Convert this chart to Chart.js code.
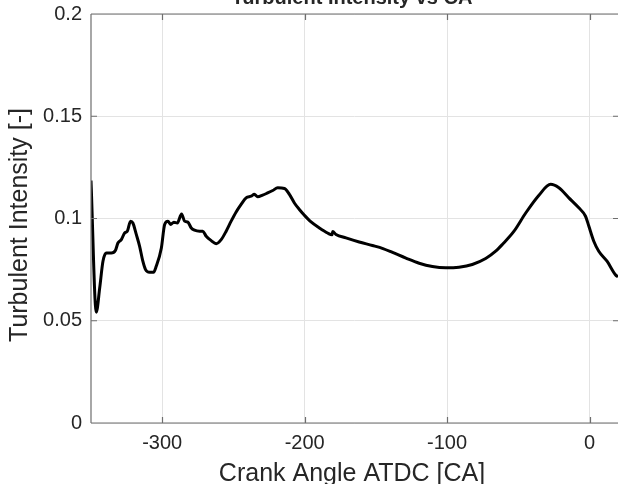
<!DOCTYPE html>
<html>
<head>
<meta charset="utf-8">
<script src="https://cdn.jsdelivr.net/npm/chart.js@4"></script>
<style>
  html, body { margin: 0; padding: 0; background: #ffffff; }
  #wrap { width: 618px; height: 484px; position: relative; }
</style>
</head>
<body>
<div id="wrap"><canvas id="c" width="618" height="484"></canvas></div>
<script>
// Crank angle [deg ATDC]
const crankAngle = [
  -350.0, -346.3, -343.9, -341.6, -339.2, -335.7, -332.9, -331.1, -328.7, -326.4,
  -324.5, -322.2, -320.6, -318.2, -315.9, -313.6, -311.7, -308.9, -306.1, -304.2,
  -300.6, -298.3, -296.0, -294.1, -291.8, -289.4, -286.4, -284.3, -282.0, -279.6,
  -277.3, -273.8, -271.5, -269.1, -265.6, -262.1, -258.6, -255.1, -251.6, -248.1,
  -244.6, -241.1, -237.6, -235.3, -233.0, -229.5, -226.0, -222.4, -218.9, -214.2,
  -210.7, -207.2, -203.7, -200.2, -195.5, -189.7, -183.9, -180.8, -180.3, -178.0,
  -171.0, -161.7, -152.4, -145.0, -138.3, -128.9, -119.6, -110.3, -100.9, -91.6,
  -82.3, -72.9, -65.9, -61.2, -53.0, -44.8, -35.5, -27.3, -21.5, -14.5,
  -7.5, -2.8, -0.5, 3.0, 6.5, 12.3, 18.2, 20.0
];
// Turbulent intensity [-]
const turbIntensity = [
  0.1186, 0.0542, 0.0660, 0.0791, 0.0831, 0.0831, 0.0843, 0.0880, 0.0897, 0.0929,
  0.0938, 0.0987, 0.0978, 0.0922, 0.0865, 0.0791, 0.0750, 0.0737, 0.0737, 0.0766,
  0.0856, 0.0971, 0.0987, 0.0971, 0.0982, 0.0978, 0.1022, 0.0987, 0.0982, 0.0954,
  0.0943, 0.0938, 0.0938, 0.0913, 0.0892, 0.0877, 0.0897, 0.0938, 0.0987, 0.1032,
  0.1069, 0.1101, 0.1109, 0.1118, 0.1106, 0.1114, 0.1125, 0.1137, 0.1150, 0.1147,
  0.1118, 0.1076, 0.1044, 0.1016, 0.0983, 0.0954, 0.0929, 0.0920, 0.0936, 0.0922,
  0.0905, 0.0885, 0.0868, 0.0853, 0.0834, 0.0806, 0.0781, 0.0765, 0.0759, 0.0762,
  0.0775, 0.0804, 0.0840, 0.0873, 0.0938, 0.1027, 0.1114, 0.1167, 0.1150, 0.1101,
  0.1052, 0.1011, 0.0963, 0.0889, 0.0840, 0.0791, 0.0725, 0.0714
];
const xTicks = [-300, -200, -100, 0];
const yTicks = [0, 0.05, 0.1, 0.15, 0.2];
const yTickLabels = ['0', '0.05', '0.1', '0.15', '0.2'];
const xRange = [-350, 20];
const yRange = [0, 0.2];
const titleText = 'Turbulent Intensity vs CA';
const xLabelText = 'Crank Angle ATDC [CA]';
const yLabelText = 'Turbulent Intensity [-]';

const FONT = '"Liberation Sans", Arial, Helvetica, sans-serif';
const TXT = '#262626';

const points = crankAngle.map((x, i) => ({ x: x, y: turbIntensity[i] }));

const framePlugin = {
  id: 'frame',
  afterDraw(chart) {
    const ctx = chart.ctx;
    const a = chart.chartArea;
    const xs = chart.scales.x, ys = chart.scales.y;
    ctx.save();
    ctx.strokeStyle = '#6e6e6e';
    ctx.lineWidth = 1.2;
    ctx.beginPath();
    ctx.moveTo(a.left, a.top); ctx.lineTo(a.left, a.bottom);
    ctx.moveTo(a.left, a.bottom); ctx.lineTo(a.right + 2, a.bottom);
    ctx.moveTo(a.left, a.top); ctx.lineTo(a.right + 2, a.top);
    const tl = 6;
    xTicks.forEach(v => {
      const px = Math.round(xs.getPixelForValue(v)) + 0.5;
      ctx.moveTo(px, a.bottom); ctx.lineTo(px, a.bottom - tl);
      ctx.moveTo(px, a.top); ctx.lineTo(px, a.top + tl);
    });
    yTicks.forEach(v => {
      const py = ys.getPixelForValue(v);
      ctx.moveTo(a.left, py); ctx.lineTo(a.left + tl, py);
      ctx.moveTo(a.right + 1, py); ctx.lineTo(a.right - 5, py);
    });
    ctx.stroke();

    ctx.fillStyle = TXT;
    ctx.font = 'bold 20px ' + FONT;
    ctx.textAlign = 'center';
    ctx.textBaseline = 'alphabetic';
    ctx.fillText(titleText, 352, 4);
    ctx.font = '25px ' + FONT;
    ctx.fillText(xLabelText, 352, 481);
    ctx.translate(27, 225);
    ctx.rotate(-Math.PI / 2);
    ctx.fillText(yLabelText, 0, 0);
    ctx.restore();
  }
};

new Chart(document.getElementById('c'), {
  type: 'scatter',
  data: {
    datasets: [{
      data: points,
      showLine: true,
      borderColor: '#000000',
      borderWidth: 3,
      pointRadius: 0,
      fill: false,
      cubicInterpolationMode: 'monotone'
    }]
  },
  options: {
    responsive: false,
    animation: false,
    devicePixelRatio: 1,
    layout: { padding: { top: 14, right: 0, bottom: 0, left: 0 } },
    plugins: { legend: { display: false }, tooltip: { enabled: false }, title: { display: false } },
    scales: {
      x: {
        type: 'linear',
        min: xRange[0], max: xRange[1],
        afterBuildTicks: s => { s.ticks = xTicks.map(v => ({ value: v })); },
        afterFit: s => { s.height = 61; s.paddingLeft = 0; s.paddingRight = 0; },
        grid: { color: '#e3e3e3', lineWidth: 1, drawTicks: false },
        border: { display: false },
        ticks: {
          font: { family: FONT, size: 20 }, color: TXT, padding: 8,
          maxRotation: 0, autoSkip: false,
          callback: v => String(v)
        }
      },
      y: {
        type: 'linear',
        min: yRange[0], max: yRange[1],
        afterBuildTicks: s => { s.ticks = yTicks.map(v => ({ value: v })); },
        afterFit: s => { s.width = 91; s.paddingTop = 0; s.paddingBottom = 0; },
        grid: { color: '#e3e3e3', lineWidth: 1, drawTicks: false },
        border: { display: false },
        ticks: {
          font: { family: FONT, size: 20 }, color: TXT, padding: 9,
          autoSkip: false,
          callback: v => yTickLabels[yTicks.indexOf(v)] !== undefined ? yTickLabels[yTicks.indexOf(v)] : ''
        }
      }
    }
  },
  plugins: [framePlugin]
});
</script>
</body>
</html>
